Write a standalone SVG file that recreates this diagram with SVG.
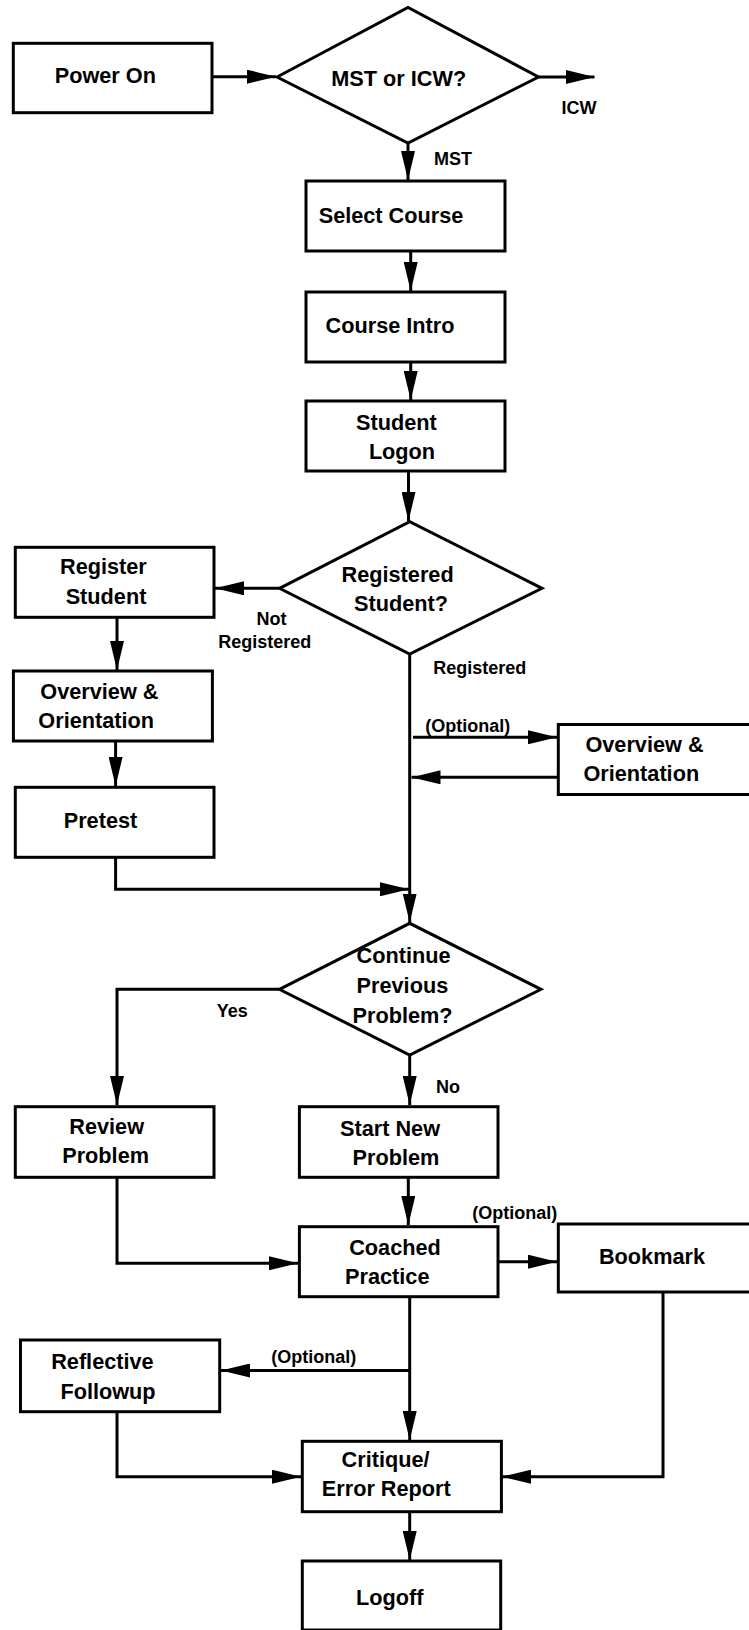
<svg xmlns="http://www.w3.org/2000/svg" width="749" height="1630" viewBox="0 0 749 1630">
<defs>
<marker id="ah" markerUnits="userSpaceOnUse" markerWidth="29" markerHeight="14" refX="29" refY="7" orient="auto">
<path d="M0,0 L29,7 L0,14 z" fill="#000"/>
</marker>
<style>
.box{fill:#fff;stroke:#000;stroke-width:3}
.t{font-family:"Liberation Sans",Arial,Helvetica,sans-serif;font-weight:bold;font-size:21.7px;fill:#000;text-anchor:middle}
.l{font-family:"Liberation Sans",Arial,Helvetica,sans-serif;font-weight:bold;font-size:18px;fill:#000;text-anchor:middle}
.c{fill:none;stroke:#000;stroke-width:3;marker-end:url(#ah)}
.n{fill:none;stroke:#000;stroke-width:3}
</style>
</defs>
<rect width="749" height="1630" fill="#fff"/>
<g id="connectors">
<path class="c" d="M212,76.7 H276"/>
<path class="c" d="M538.5,77 H594.5"/>
<path class="c" d="M408,143 V180"/>
<path class="c" d="M410.7,251 V291"/>
<path class="c" d="M410.7,362 V400"/>
<path class="c" d="M408.5,471 V521"/>
<path class="c" d="M279.5,588.3 H215"/>
<path class="c" d="M117,617 V670"/>
<path class="c" d="M115.6,741 V786"/>
<path class="c" d="M115.6,857 V889.3 H409"/>
<path class="c" d="M409.7,654 V922.5"/>
<path class="c" d="M413,737.3 H557"/>
<path class="c" d="M558,777.3 H411.5"/>
<path class="c" d="M279.4,989.3 H117 V1105"/>
<path class="c" d="M409.7,1055 V1105"/>
<path class="c" d="M408.3,1177 V1225"/>
<path class="c" d="M117,1177 V1263.3 H298"/>
<path class="c" d="M498,1261.7 H557"/>
<path class="c" d="M409.7,1297 V1440"/>
<path class="c" d="M409.7,1370.5 H221"/>
<path class="c" d="M117,1412 V1476.7 H301"/>
<path class="c" d="M663,1292 V1476.7 H502"/>
<path class="c" d="M409.7,1512 V1560"/>
</g>
<g id="labels">
<text class="l" x="579" y="114">ICW</text>
<text class="l" x="453" y="165">MST</text>
<text class="l" x="271.5" y="625">Not</text>
<text class="l" x="264.8" y="648.3">Registered</text>
<text class="l" x="479.7" y="674.3">Registered</text>
<text class="l" x="467.7" y="731.7">(Optional)</text>
<text class="l" x="232.3" y="1016.7">Yes</text>
<text class="l" x="448" y="1093.3">No</text>
<text class="l" x="514.8" y="1219.3">(Optional)</text>
<text class="l" x="313.8" y="1363.3">(Optional)</text>
</g>
<g id="power-on"><rect class="box" x="13.3" y="43.3" width="198.7" height="69.4"/><text class="t" x="105.3" y="83.3">Power On</text></g>
<g id="mst-or-icw"><polygon class="box" points="277,77 408,7.5 538.5,77 408,143"/><text class="t" x="398.7" y="85.7">MST or ICW?</text></g>
<g id="select-course"><rect class="box" x="306" y="181" width="199" height="70"/><text class="t" x="391" y="223">Select Course</text></g>
<g id="course-intro"><rect class="box" x="306" y="292" width="199" height="70"/><text class="t" x="390" y="333">Course Intro</text></g>
<g id="student-logon"><rect class="box" x="306" y="401" width="199" height="70"/><text class="t" x="396.4" y="430">Student</text><text class="t" x="402" y="459">Logon</text></g>
<g id="registered-student"><polygon class="box" points="279.5,588.3 409.7,521.7 542,588.3 409.7,654"/><text class="t" x="397.6" y="582.3">Registered</text><text class="t" x="401" y="611">Student?</text></g>
<g id="register-student"><rect class="box" x="15.3" y="547.3" width="198.7" height="70"/><text class="t" x="103.4" y="574">Register</text><text class="t" x="106" y="604">Student</text></g>
<g id="overview-left"><rect class="box" x="13.4" y="671" width="199" height="70"/><text class="t" x="99.4" y="699.3">Overview &amp;</text><text class="t" x="96.2" y="727.7">Orientation</text></g>
<g id="pretest"><rect class="box" x="15.3" y="787.3" width="198.7" height="70"/><text class="t" x="100.5" y="828.3">Pretest</text></g>
<g id="overview-right"><rect class="box" x="558.3" y="724.5" width="210" height="70"/><text class="t" x="644.5" y="751.7">Overview &amp;</text><text class="t" x="641.3" y="781">Orientation</text></g>
<g id="continue-previous"><polygon class="box" points="279.4,989.3 409.7,923.3 541,989.3 409.7,1055"/><text class="t" x="403.5" y="963.3">Continue</text><text class="t" x="402.4" y="992.7">Previous</text><text class="t" x="402.6" y="1022.7">Problem?</text></g>
<g id="review-problem"><rect class="box" x="15.3" y="1106.7" width="198.7" height="70.6"/><text class="t" x="106.7" y="1134.3">Review</text><text class="t" x="105.6" y="1163.3">Problem</text></g>
<g id="start-new-problem"><rect class="box" x="299.4" y="1106.7" width="198.6" height="70.6"/><text class="t" x="390" y="1136">Start New</text><text class="t" x="396" y="1165">Problem</text></g>
<g id="coached-practice"><rect class="box" x="299.4" y="1226.7" width="198.6" height="70"/><text class="t" x="395" y="1255">Coached</text><text class="t" x="387.3" y="1284.3">Practice</text></g>
<g id="bookmark"><rect class="box" x="558.3" y="1224" width="210" height="68"/><text class="t" x="652" y="1264">Bookmark</text></g>
<g id="reflective-followup"><rect class="box" x="20.5" y="1340" width="199.2" height="71.7"/><text class="t" x="102.4" y="1369.3">Reflective</text><text class="t" x="108" y="1399.3">Followup</text></g>
<g id="critique"><rect class="box" x="302.3" y="1441.3" width="199.1" height="70.4"/><text class="t" x="385.6" y="1467.3">Critique/</text><text class="t" x="386.3" y="1496">Error Report</text></g>
<g id="logoff"><rect class="box" x="302.3" y="1561" width="198.4" height="69"/><text class="t" x="389.7" y="1605">Logoff</text></g>
</svg>
